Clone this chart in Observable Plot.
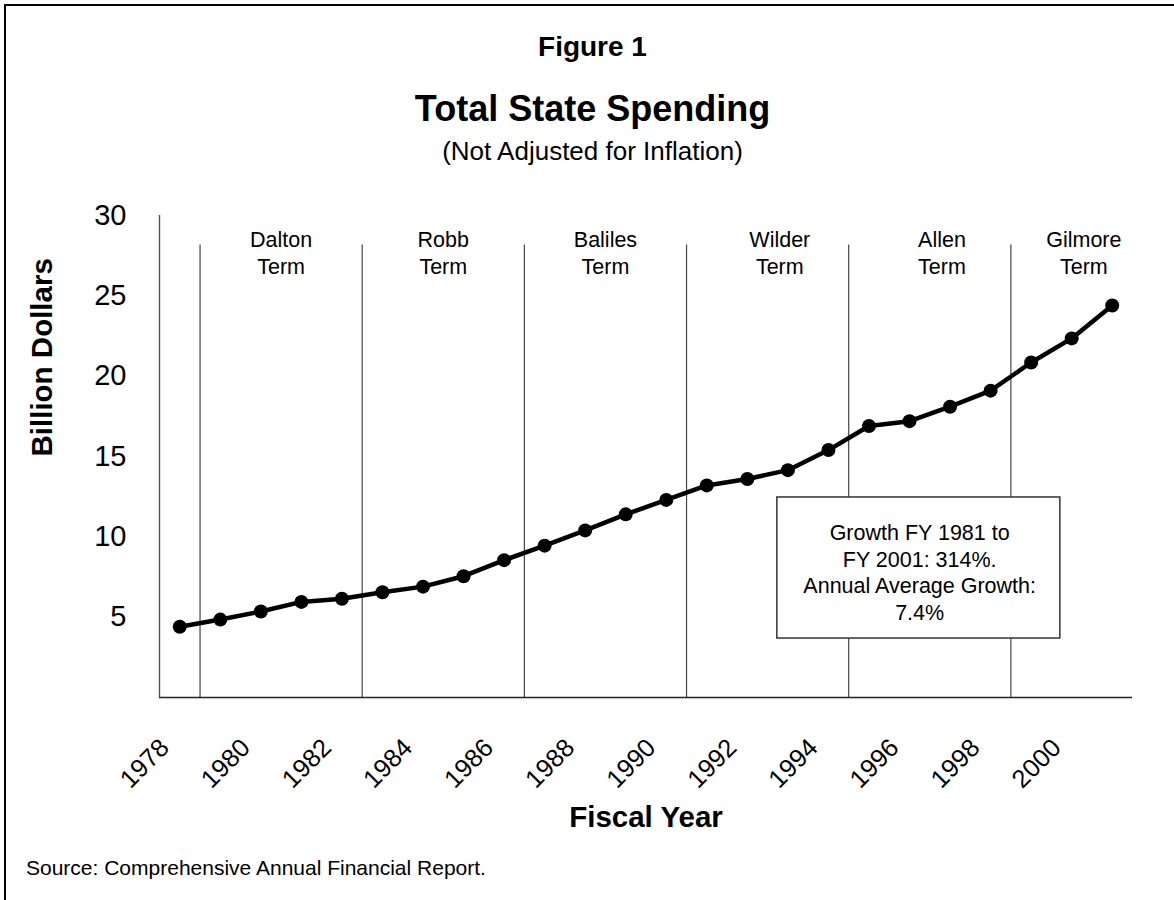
<!DOCTYPE html>
<html>
<head>
<meta charset="utf-8">
<script src="https://cdn.jsdelivr.net/npm/d3@7"></script>
<script src="https://cdn.jsdelivr.net/npm/@observablehq/plot@0.6"></script>
<style>
  body { margin: 0; background: #fff; }
  #page { position: relative; width: 1174px; height: 900px; overflow: hidden; background: #fff;
          font-family: "Liberation Sans", Arial, sans-serif; color: #000; }
  #border { position: absolute; left: 4px; top: 4px; width: 1300px; height: 1100px; border: 2px solid #000; }
  .t { position: absolute; left: 0; width: 1185px; text-align: center; white-space: nowrap; }
  #fig { top: 33px; font: bold 28px/28px "Liberation Sans", Arial, sans-serif; }
  #title { top: 91px; font: bold 36px/36px "Liberation Sans", Arial, sans-serif; }
  #sub { top: 138px; font: 26px/26px "Liberation Sans", Arial, sans-serif; }
  #chart { position: absolute; left: 0; top: 175px; }
  #source { position: absolute; left: 26px; top: 857px; font: 21px/21px "Liberation Sans", Arial, sans-serif; white-space: nowrap; }
</style>
</head>
<body>
<div id="page">
  <div id="border"></div>
  <div class="t" id="fig">Figure 1</div>
  <div class="t" id="title">Total State Spending</div>
  <div class="t" id="sub">(Not Adjusted for Inflation)</div>
  <div id="chart"></div>
  <div id="source">Source: Comprehensive Annual Financial Report.</div>
</div>
<script>
// ---- data ----
const years = [1978, 1979, 1980, 1981, 1982, 1983, 1984, 1985, 1986, 1987, 1988, 1989,
               1990, 1991, 1992, 1993, 1994, 1995, 1996, 1997, 1998, 1999, 2000, 2001];
const spending = [4.4, 4.85, 5.35, 5.95, 6.15, 6.55, 6.9, 7.55, 8.55, 9.45, 10.4, 11.4,
                  12.3, 13.2, 13.6, 14.15, 15.4, 16.9, 17.2, 18.1, 19.1, 20.85, 22.35, 24.4];
const tickYears = [1978, 1980, 1982, 1984, 1986, 1988, 1990, 1992, 1994, 1996, 1998, 2000];
const yTicks = [5, 10, 15, 20, 25, 30];
const termBoundaries = [1978.5, 1982.5, 1986.5, 1990.5, 1994.5, 1998.5];
const termNames = ["Dalton", "Robb", "Baliles", "Wilder", "Allen", "Gilmore"];
const termLabelYears = [1980.5, 1984.5, 1988.5, 1992.8, 1996.8, 2000.3];
const noteLines = ["Growth FY 1981 to", "FY 2001: 314%.", "Annual Average Growth:", "7.4%"];

// annotation placement (data units)
const noteBox = {x1: 1992.74, x2: 1999.72, y1: 3.67, y2: 12.45, tx: 1996.25, ty: 7.85};
const termLineTop = 28.6;

const data = years.map((year, i) => ({year, value: spending[i]}));
const terms = termNames.map((name, i) => ({name, x: termLabelYears[i]}));

const font = '"Liberation Sans", Arial, sans-serif';
const chart = Plot.plot({
  width: 1174,
  height: 680,
  marginLeft: 159,
  marginRight: 42,
  marginTop: 40,
  marginBottom: 158,
  style: {fontFamily: font, fontSize: "29px", color: "#000", background: "transparent", overflow: "visible"},
  x: {type: "linear", domain: [1977.5, 2001.5], axis: null, label: null},
  y: {domain: [0, 30], label: null},
  marks: [
    Plot.ruleX(termBoundaries, {x: d => d, y1: 0, y2: termLineTop, stroke: "#444", strokeWidth: 1.2, insetBottom: -7}),
    Plot.ruleX([1977.5], {x: d => d, y1: 0, y2: 30, stroke: "#555", strokeWidth: 1.4}),
    Plot.ruleY([0], {y: d => d, stroke: "#222", strokeWidth: 1.6}),
    Plot.axisY({ticks: yTicks, tickSize: 0, tickPadding: 33, fontSize: 29, tickFormat: d => String(d), label: null}),
    Plot.text(tickYears, {x: d => d, text: d => String(d), frameAnchor: "bottom", rotate: -45,
      textAnchor: "end", lineAnchor: "middle", dx: -15, dy: 46, fontSize: 25.5}),
    Plot.text(terms, {x: "x", text: d => d.name + "\nTerm", frameAnchor: "top", lineAnchor: "top",
      lineHeight: 1.256, dy: 12.7, fontSize: 21.5}),
    Plot.rect([noteBox], {x1: "x1", x2: "x2", y1: "y1", y2: "y2", fill: "#fff", stroke: "#333", strokeWidth: 1.5}),
    Plot.text([noteLines.join("\n")], {x: () => noteBox.tx, y: () => noteBox.ty, text: d => d,
      lineHeight: 1.24, fontSize: 21.5}),
    Plot.line(data, {x: "year", y: "value", stroke: "#000", strokeWidth: 4.5}),
    Plot.dot(data, {x: "year", y: "value", r: 7, fill: "#000"}),
    Plot.text(["Billion Dollars"], {text: d => d, frameAnchor: "left", rotate: -90, dx: -117,
      fontWeight: "bold", fontSize: 29.5}),
    Plot.text(["Fiscal Year"], {text: d => d, frameAnchor: "bottom", dy: 129.7,
      fontWeight: "bold", fontSize: 29.5})
  ]
});
document.getElementById("chart").appendChild(chart);
</script>
</body>
</html>
